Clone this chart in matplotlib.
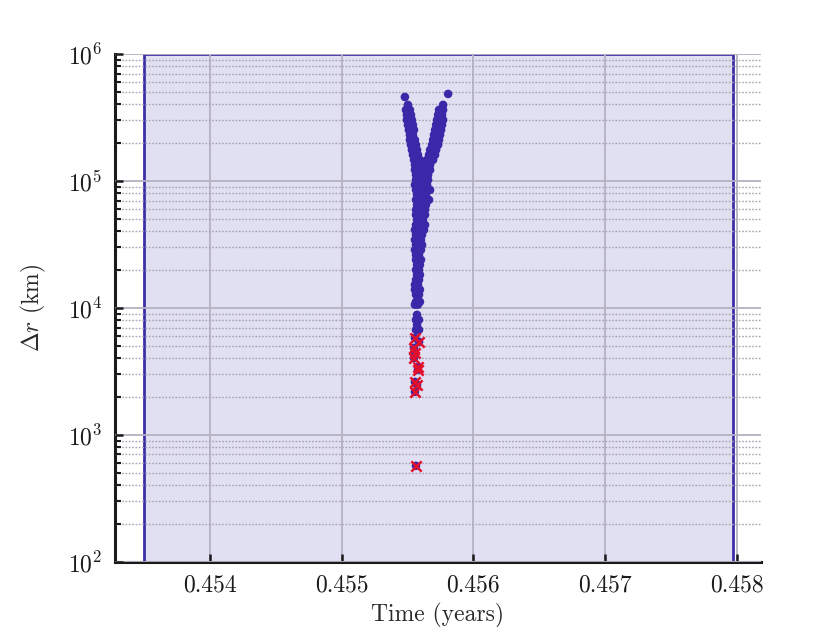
import matplotlib
matplotlib.use("Agg")
import matplotlib.pyplot as plt
from matplotlib.ticker import LogLocator, NullFormatter, FixedLocator

plt.rcParams["font.family"] = "serif"
plt.rcParams["font.serif"] = ["cmr10", "DejaVu Serif"]
plt.rcParams["mathtext.fontset"] = "cm"
plt.rcParams["axes.formatter.use_mathtext"] = True

# propagated samples that stay above the threshold (time in years, separation in km)
blue_t = [
    0.455481, 0.455809,
    0.455504, 0.455771,
    0.455489, 0.455519, 0.455740, 0.455771,
    0.455496, 0.455527, 0.455733, 0.455763,
    0.455496, 0.455519, 0.455534, 0.455725, 0.455748, 0.455771,
    0.455504, 0.455527, 0.455542, 0.455718, 0.455740, 0.455763,
    0.455511, 0.455534, 0.455550, 0.455710, 0.455733, 0.455756,
    0.455519, 0.455542, 0.455702, 0.455725, 0.455748,
    0.455519, 0.455542, 0.455557, 0.455695, 0.455718, 0.455740,
    0.455527, 0.455550, 0.455565, 0.455687, 0.455710, 0.455733,
    0.455534, 0.455557, 0.455573, 0.455672, 0.455695, 0.455718,
    0.455542, 0.455565, 0.455580, 0.455664, 0.455687, 0.455710,
    0.455550, 0.455573, 0.455595, 0.455649, 0.455672, 0.455695,
    0.455557, 0.455580, 0.455603, 0.455626, 0.455649, 0.455672,
    0.455557, 0.455580, 0.455603, 0.455626, 0.455649, 0.455672,
    0.455565, 0.455588, 0.455611, 0.455634, 0.455657,
    0.455565, 0.455588, 0.455611, 0.455634, 0.455657,
    0.455557, 0.455580, 0.455603, 0.455626, 0.455649,
    0.455565, 0.455588, 0.455611, 0.455634, 0.455672,
    0.455573, 0.455595, 0.455618, 0.455641,
    0.455565, 0.455588, 0.455611, 0.455634, 0.455664,
    0.455573, 0.455595, 0.455618, 0.455641,
    0.455565, 0.455588, 0.455611, 0.455634,
    0.455565, 0.455588, 0.455611, 0.455634,
    0.455573, 0.455595, 0.455618,
    0.455565, 0.455588, 0.455611, 0.455634,
    0.455557, 0.455580, 0.455603, 0.455626,
    0.455565, 0.455588, 0.455611,
    0.455557, 0.455580, 0.455603,
    0.455565, 0.455588, 0.455611,
    0.455557, 0.455580, 0.455603,
    0.455565, 0.455588,
    0.455565, 0.455588, 0.455603,
    0.455573, 0.455595,
    0.455565, 0.455588,
    0.455573, 0.455595,
    0.455565, 0.455588,
    0.455557, 0.455580,
    0.455557, 0.455580, 0.455595,
    0.455565, 0.455588,
    0.455565, 0.455595,
    0.455557, 0.455580,
    0.455573,
    0.455565, 0.455588,
    0.455573,
    0.455565, 0.455588,
]
blue_dr = [
    458000, 484000,
    396800, 396800,
    362300, 362300, 362300, 362300,
    331100, 331100, 331100, 331100,
    302100, 302100, 302100, 302100, 302100, 302100,
    276000, 276000, 276000, 276000, 276000, 276000,
    252000, 252000, 252000, 252000, 252000, 252000,
    230300, 230300, 230300, 230300, 230300,
    210300, 210300, 210300, 210300, 210300, 210300,
    192000, 192000, 192000, 192000, 192000, 192000,
    175400, 175400, 175400, 175400, 175400, 175400,
    160200, 160200, 160200, 160200, 160200, 160200,
    146300, 146300, 146300, 146300, 146300, 146300,
    133700, 133700, 133700, 133700, 133700, 133700,
    122000, 122000, 122000, 122000, 122000, 122000,
    111500, 111500, 111500, 111500, 111500,
    101800, 101800, 101800, 101800, 101800,
    93000, 93000, 93000, 93000, 93000,
    84900, 84900, 84900, 84900, 84900,
    77600, 77600, 77600, 77600,
    70900, 70900, 70900, 70900, 70900,
    64700, 64700, 64700, 64700,
    59100, 59100, 59100, 59100,
    54000, 54000, 54000, 54000,
    49300, 49300, 49300,
    45000, 45000, 45000, 45000,
    41100, 41100, 41100, 41100,
    37600, 37600, 37600,
    34300, 34300, 34300,
    31300, 31300, 31300,
    28600, 28600, 28600,
    26100, 26100,
    23900, 23900, 23900,
    21800, 21800,
    19900, 19900,
    18200, 18200,
    16600, 16600,
    15200, 15200,
    13900, 13900, 13900,
    12700, 12700,
    11150, 11150,
    10600, 10600,
    8810,
    8040, 8040,
    7350,
    6710, 6710,
]

# samples that fall below the threshold
red_t = [0.455557, 0.455588, 0.455550, 0.455557, 0.455550, 0.455580,
         0.455580, 0.455557, 0.455573, 0.455557, 0.455565]
red_dr = [5800, 5400, 4840, 4420, 4040, 3430, 3250, 2610, 2480, 2180, 570]

# time window of the encounter
window_start = 0.4535
window_end = 0.45797

x_ticks = [0.454, 0.455, 0.456, 0.457, 0.458]

fig = plt.figure(figsize=(8.26, 6.27), dpi=100)
ax = fig.add_axes([0.139, 0.104, 0.782, 0.810])

ax.axvspan(window_start, window_end, facecolor="#e1dff2",
           edgecolor="#3b2fa8", linewidth=2.0, zorder=1)

# every sample as a dot, the ones under the threshold crossed out on top
ax.scatter(blue_t + red_t, blue_dr + red_dr, s=38, color="#3a28a8",
           edgecolors="none", zorder=3)
ax.scatter(red_t, red_dr, s=55, marker="x", color="#e3102c", linewidths=1.8,
           zorder=4)

ax.set_yscale("log")
ax.set_ylim(1e2, 1e6)
ax.set_xlim(0.453279, 0.458182)
ax.xaxis.set_major_locator(FixedLocator(x_ticks))
ax.set_xticklabels([f"{v:.3f}" for v in x_ticks])
ax.yaxis.set_major_locator(LogLocator(base=10, numticks=10))
ax.yaxis.set_minor_locator(LogLocator(base=10, subs=range(2, 10), numticks=10))
ax.yaxis.set_minor_formatter(NullFormatter())

ax.set_axisbelow(False)
ax.grid(True, which="major", axis="both", color="#b4b2c0", linewidth=1.3,
        linestyle="-", zorder=2)
ax.grid(True, which="minor", axis="y", color="#a5a4b2", linewidth=1.0,
        linestyle=(0, (1.2, 1.2)), zorder=2)

for side in ("top", "right"):
    ax.spines[side].set_visible(False)
for side in ("left", "bottom"):
    ax.spines[side].set_linewidth(2.2)
    ax.spines[side].set_color("#1a1a1a")

ax.tick_params(which="major", direction="in", length=6, width=1.8,
               labelsize=17, colors="#1a1a1a", pad=9)
ax.tick_params(which="minor", direction="in", length=4, width=1.5,
               colors="#1a1a1a")
ax.tick_params(axis="x", which="minor", bottom=False)

ax.set_xlabel("Time (years)", fontsize=17, color="#2a2a2a", labelpad=5)
ax.set_ylabel(r"$\Delta r$ (km)", fontsize=17, color="#2a2a2a", labelpad=14)

fig.savefig("out.png", dpi=100, facecolor="white")
